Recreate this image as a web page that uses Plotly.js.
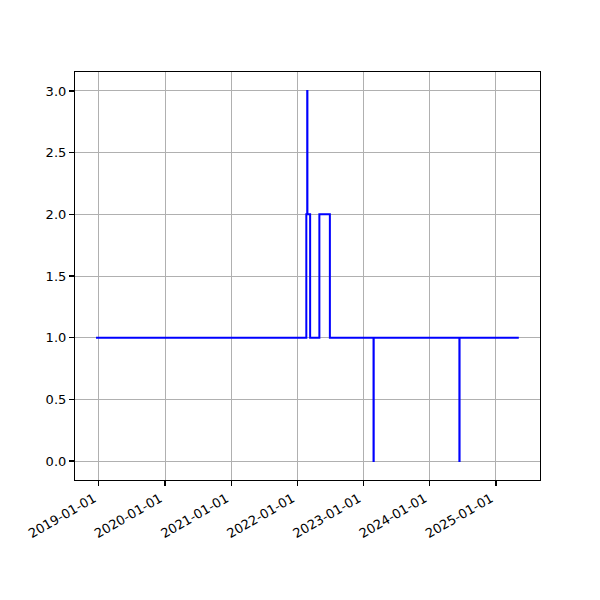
<!DOCTYPE html>
<html>
<head>
<meta charset="utf-8">
<script src="https://cdn.plot.ly/plotly-3.0.1.min.js"></script>
<style>html,body{margin:0;padding:0;background:#fff}#chart{width:600px;height:600px}</style>
</head>
<body>
<div id="chart"></div>
<script>
const dates = ["2018-12-16","2022-02-19","2022-02-24","2022-02-25","2022-03-12","2022-05-02","2022-06-29","2023-02-25","2023-02-26","2024-06-13","2024-06-14","2025-05-07"];
const values = [1,2,3,2,1,2,1,0,1,0,1,1];
const xTickVals = ["2019-01-01","2020-01-01","2021-01-01","2022-01-01","2023-01-01","2024-01-01","2025-01-01"];
const yTickVals = [0,0.5,1,1.5,2,2.5,3];

const font = {family: "DejaVu Sans", size: 13, color: "#000"};
const axisCommon = {
  showline: true, linecolor: "#000", linewidth: 1.1, mirror: true,
  ticks: "outside", ticklen: 5, tickwidth: 1.1, tickcolor: "#000",
  showgrid: true, gridcolor: "#b0b0b0", gridwidth: 1,
  zeroline: false, tickfont: font
};
Plotly.newPlot("chart", [{
  x: dates, y: values, type: "scatter", mode: "lines",
  line: {shape: "hv", color: "#0000ff", width: 2}
}], {
  width: 600, height: 600,
  margin: {l: 75, r: 60, t: 72, b: 120},
  paper_bgcolor: "#fff", plot_bgcolor: "#fff",
  showlegend: false,
  font: font,
  xaxis: Object.assign({}, axisCommon, {
    type: "date", range: ["2018-08-22", "2025-09-01"],
    tickmode: "array", tickvals: xTickVals, ticktext: xTickVals,
    tickangle: -30, ticklabelshift: -5
  }),
  yaxis: Object.assign({}, axisCommon, {
    range: [-0.154, 3.154],
    tickmode: "array", tickvals: yTickVals,
    ticktext: yTickVals.map(v => v.toFixed(1))
  })
}, {displayModeBar: false, staticPlot: true});
</script>
</body>
</html>
